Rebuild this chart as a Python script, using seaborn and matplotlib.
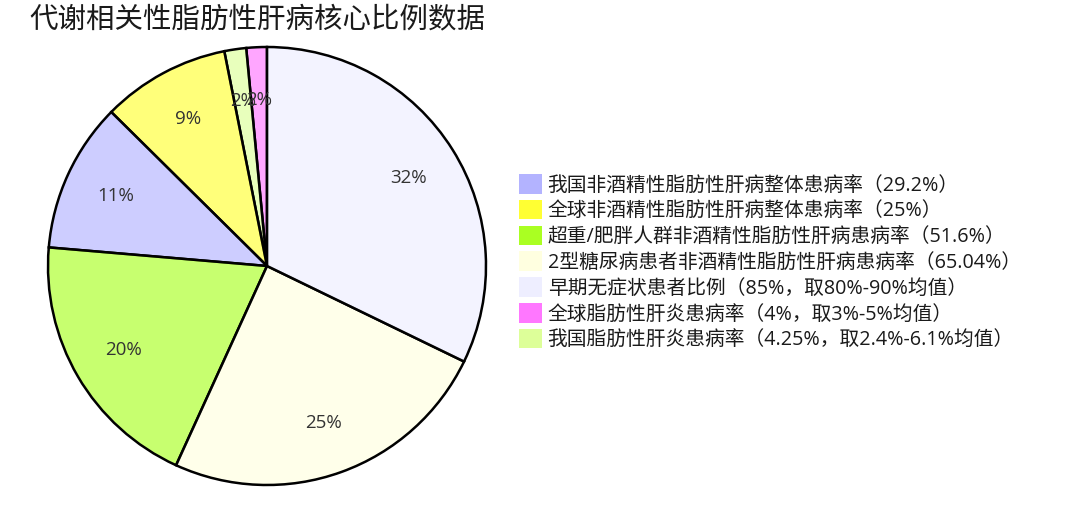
import seaborn as sns
import matplotlib.pyplot as plt
from matplotlib.colors import to_rgba
from matplotlib.patches import Patch

# legend order as in the chart
labels = [
    '我国非酒精性脂肪性肝病整体患病率（29.2%）',
    '全球非酒精性脂肪性肝病整体患病率（25%）',
    '超重/肥胖人群非酒精性脂肪性肝病患病率（51.6%）',
    '2型糖尿病患者非酒精性脂肪性肝病患病率（65.04%）',
    '早期无症状患者比例（85%，取80%-90%均值）',
    '全球脂肪性肝炎患病率（4%，取3%-5%均值）',
    '我国脂肪性肝炎患病率（4.25%，取2.4%-6.1%均值）',
]
values = [29.2, 25, 51.6, 65.04, 85, 4, 4.25]
colors = ['#B3B3FF', '#FFFF33', '#AAFF22', '#FFFFE0', '#EEEEFF', '#FF77FF', '#DDFF99']

sns.set_theme(style='white')
plt.rcParams['font.family'] = ['Open Sans', 'Noto Sans CJK SC', 'DejaVu Sans']

fig = plt.figure(figsize=(10.8, 5.32), dpi=100)
W, H = 1080, 532
cx, cy, r = 267, 266, 219
ax = fig.add_axes([(cx - r) / W, (H - cy - r) / H, 2 * r / W, 2 * r / H])

# pie drawn smallest first, counter-clockwise from the top
order = sorted(range(len(values)), key=lambda i: values[i])
pie_vals = [values[i] for i in order]
pie_cols = [to_rgba(colors[i], 0.65) for i in order]

wedges, texts, autotexts = ax.pie(
    pie_vals, colors=pie_cols, startangle=90, counterclock=True,
    autopct='%1.0f%%', pctdistance=0.76,
    wedgeprops=dict(edgecolor='black', linewidth=1.8, clip_on=False),
    textprops=dict(fontsize=13.5, color='#333333'),
)
ax.set_xlim(-1, 1)
ax.set_ylim(-1, 1)
ax.set_aspect('equal')
ax.axis('off')

handles = [Patch(facecolor=c, edgecolor='none') for c in colors]
fig.legend(handles, labels, loc='upper left',
           bbox_to_anchor=(519 / W, 1 - 174 / H), frameon=False,
           fontsize=14.2, handlelength=1.15, handleheight=1.15,
           handletextpad=0.3, labelspacing=0.22, borderpad=0, borderaxespad=0,
           labelcolor='#1a1a1a')

fig.text(257 / W, 1 - 6 / H, '代谢相关性脂肪性肝病核心比例数据', ha='center', va='top',
         fontsize=20.5, color='#1a1a1a')

fig.savefig('out.png', dpi=100)
